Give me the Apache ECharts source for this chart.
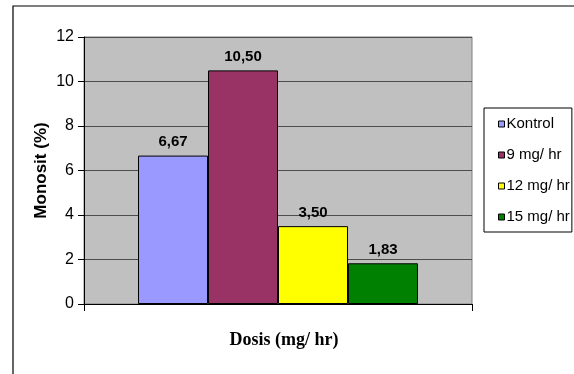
<!DOCTYPE html>
<html>
<head>
<meta charset="utf-8">
<script src="https://cdn.jsdelivr.net/npm/echarts@6/dist/echarts.min.js"></script>
<style>html,body{margin:0;padding:0;background:#fff}#c{width:574px;height:374px}</style>
</head>
<body>
<div id="c"></div>
<script>
var categories = [''];
var seriesNames = ['Kontrol', '9 mg/ hr', '12 mg/ hr', '15 mg/ hr'];
var seriesValues = [[6.67], [10.50], [3.50], [1.83]];
var seriesColors = ['#9999FF', '#993366', '#FFFF00', '#008000'];
var yTicks = { min: 0, max: 12, interval: 2 };

var chart = echarts.init(document.getElementById('c'), null, { renderer: 'canvas' });
var series = seriesNames.map(function (n, i) {
  return {
    name: n,
    type: 'bar',
    data: seriesValues[i],
    barWidth: 70,
    barGap: '0%',
    itemStyle: { color: seriesColors[i], borderColor: '#000', borderWidth: 1 },
    label: {
      show: true, position: 'top', distance: 6,
      fontFamily: 'Liberation Sans, Arial', fontWeight: 'bold', fontSize: 15, color: '#000',
      formatter: function (p) { return p.value.toFixed(2).replace('.', ','); }
    },
    emphasis: { disabled: true }
  };
});

chart.setOption({
  animation: false,
  backgroundColor: '#fff',
  graphic: [
    { type: 'rect', shape: { x: 13, y: 6, width: 620, height: 420 }, style: { fill: null, stroke: '#000', lineWidth: 1.2 }, z: -1 },
    { type: 'rect', shape: { x: 84, y: 37, width: 388, height: 267 }, style: { fill: '#C0C0C0', stroke: '#808080', lineWidth: 1 }, z: -1 }
  ],
  grid: { left: 84, right: 102, top: 37, bottom: 70, containLabel: false },
  legend: {
    orient: 'vertical', left: 484, top: 108,
    itemWidth: 6, itemHeight: 6, itemGap: 15,
    padding: [8, 2, 7, 14],
    borderColor: '#000', borderWidth: 1, backgroundColor: '#fff',
    icon: 'rect',
    textStyle: { fontFamily: 'Liberation Sans, Arial', fontSize: 15, color: '#000', lineHeight: 16, padding: [0, 0, 0, -3] },
    itemStyle: { borderColor: '#000', borderWidth: 1 },
    data: seriesNames
  },
  xAxis: {
    type: 'category', data: categories,
    axisLine: { lineStyle: { color: '#000', width: 1 } },
    axisTick: { show: true, length: 7, lineStyle: { color: '#000' } },
    axisLabel: { show: false },
    name: 'Dosis (mg/ hr)', nameLocation: 'middle', nameGap: 27,
    nameTextStyle: { fontFamily: 'Liberation Serif, Times New Roman', fontWeight: 'bold', fontSize: 18, color: '#000', padding: [0, 0, 0, 12] }
  },
  yAxis: {
    type: 'value', min: yTicks.min, max: yTicks.max, interval: yTicks.interval,
    axisLine: { show: true, lineStyle: { color: '#000' } },
    axisTick: { show: true, length: 6, lineStyle: { color: '#000' } },
    axisLabel: { fontFamily: 'Liberation Sans, Arial', fontSize: 16, color: '#000', margin: 10 },
    splitLine: { show: true, lineStyle: { color: '#4d4d4d', width: 1 } },
    name: 'Monosit (%)', nameLocation: 'middle', nameGap: 34, nameMoveOverlap: false,
    nameTextStyle: { fontFamily: 'Liberation Sans, Arial', fontWeight: 'bold', fontSize: 17, color: '#000' }
  },
  series: series
});
</script>
</body>
</html>
